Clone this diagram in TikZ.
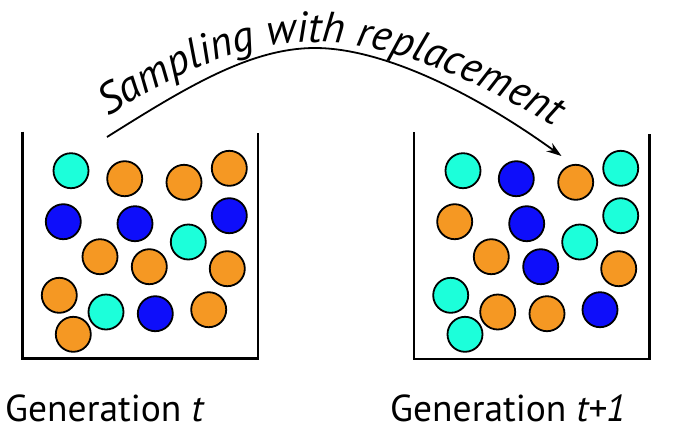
\documentclass[tikz,border=0pt]{standalone}
\usepackage{fontspec}
\setmainfont{PT Sans}
\usetikzlibrary{arrows.meta,decorations.text}
\definecolor{ballcyan}{RGB}{28,255,218}
\definecolor{ballorange}{RGB}{245,152,35}
\definecolor{ballblue}{RGB}{14,14,250}
\begin{document}
\begin{tikzpicture}[x=1pt,y=-1pt,
  ball/.style={circle,draw=black,line width=1.8pt,minimum size=35pt,inner sep=0pt},
  cy/.style={ball,fill=ballcyan},
  og/.style={ball,fill=ballorange},
  bl/.style={ball,fill=ballblue},
  jar/.style={draw=black,line width=2.4pt},
  arr/.style={draw=black,line width=1.8pt,-{Stealth[length=15pt,width=10pt]}},
  gen/.style={anchor=base west,inner sep=0pt,font=\fontsize{37.5}{40}\selectfont}]
\useasboundingbox (0,0) rectangle (682,440);
% left jar
\draw[jar] (22.3,131.7) -- (22.3,358.3) -- (257.7,358.3) -- (257.7,133.3);
\node[cy] (L1) at (71,170.7) {};
\node[og] (L2) at (124.7,178.7) {};
\node[og] (L3) at (184,182.3) {};
\node[og] (L4) at (229.3,168.3) {};
\node[bl] (L5) at (63.3,221.7) {};
\node[bl] (L6) at (135,223.7) {};
\node[bl] (L7) at (229.3,215.7) {};
\node[cy] (L8) at (188.3,242) {};
\node[og] (L9) at (100,256.7) {};
\node[og] (L10) at (149.3,266.7) {};
\node[og] (L11) at (227.3,268.7) {};
\node[og] (L12) at (59.3,295.3) {};
\node[cy] (L13) at (106,312) {};
\node[bl] (L14) at (155.3,313.7) {};
\node[og] (L15) at (208.7,309.7) {};
\node[og] (L16) at (73.3,334.3) {};
% right jar
\draw[jar] (414,132.3) -- (414,358.7) -- (649.3,358.7) -- (649.3,134);
\node[cy] (R1) at (463,170.7) {};
\node[bl] (R2) at (516.3,178.7) {};
\node[og] (R3) at (575.7,182.3) {};
\node[cy] (R4) at (620.7,168.3) {};
\node[og] (R5) at (454.7,221.7) {};
\node[bl] (R6) at (526.7,223.7) {};
\node[cy] (R7) at (620.7,215.7) {};
\node[cy] (R8) at (579.7,242) {};
\node[og] (R9) at (491.3,256.7) {};
\node[bl] (R10) at (540.7,266.7) {};
\node[og] (R11) at (618.7,268.7) {};
\node[cy] (R12) at (450.7,295.3) {};
\node[og] (R13) at (497.7,312) {};
\node[og] (R14) at (547,313.7) {};
\node[bl] (R15) at (600,309.7) {};
\node[cy] (R16) at (465,334.3) {};
% arrow
\coordinate (as) at (107,137);
\coordinate (ap) at (315,48);
\coordinate (ae) at (561.5,156);
\draw[arr] (as) .. controls (185,88) and (250,48) .. (ap) .. controls (380,48) and (470,90) .. (ae);
% curved label
\path[decorate,decoration={text along path,text align=center,
  text={|\fontsize{43}{46}\selectfont\itshape|Sampling with replacement}}]
  (102,120) .. controls (180,70) and (245,42) .. (316,42) .. controls (390,42) and (480,82) .. (560,130);
% generation labels
\node[gen] (g1) at (5,421.7) {Generation \textit{t}};
\node[gen] (g2) at (390,421.7) {Generation \textit{t+1}};
\end{tikzpicture}
\end{document}
